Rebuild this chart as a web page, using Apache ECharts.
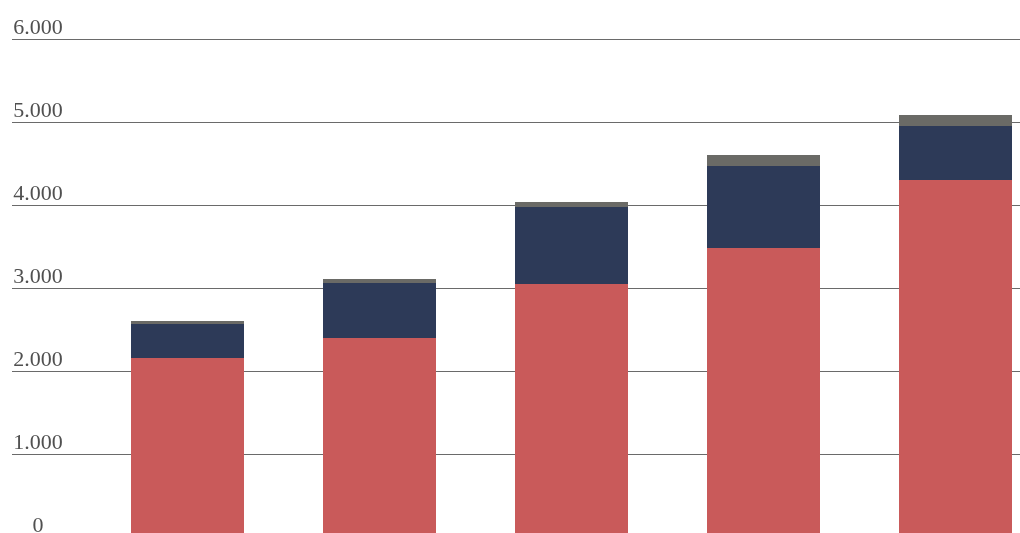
<!DOCTYPE html>
<html>
<head>
<meta charset="utf-8">
<script src="https://cdn.jsdelivr.net/npm/echarts@6/dist/echarts.min.js"></script>
<style>
html,body{margin:0;padding:0;background:#fff;}
#chart{width:1020px;height:533px;}
</style>
</head>
<body>
<div id="chart"></div>
<script>
const categories = ['1', '2', '3', '4', '5'];
const seriesRed = [2157, 2398, 3048, 3482, 4301];
const seriesNavy = [409, 662, 928, 988, 651];
const seriesGray = [36, 48, 60, 132, 132];
const yTicks = [0, 1000, 2000, 3000, 4000, 5000, 6000];

function fmt(v) {
  return String(v).replace(/\B(?=(\d{3})+(?!\d))/g, '.');
}

const chart = echarts.init(document.getElementById('chart'), null, {renderer: 'canvas'});
chart.setOption({
  animation: false,
  backgroundColor: '#ffffff',
  grid: [
    {left: 12, right: 0, top: 39, bottom: -4, outerBoundsMode: 'none'},
    {left: 91.5, width: 960, top: 39, bottom: -4, outerBoundsMode: 'none'}
  ],
  xAxis: [
    {gridIndex: 0, type: 'value', min: 0, max: 1, show: false},
    {gridIndex: 1, type: 'category', data: categories, show: false, boundaryGap: true}
  ],
  yAxis: [
    {
      gridIndex: 0, type: 'value', min: yTicks[0], max: yTicks[yTicks.length - 1], interval: 1000,
      axisLine: {show: false}, axisTick: {show: false},
      splitLine: {show: true, lineStyle: {color: '#6a6a6a', width: 1}},
      axisLabel: {
        inside: true, margin: 26, align: 'center', verticalAlign: 'bottom',
        padding: [0, 0, 0, 0],
        fontFamily: 'Liberation Serif', fontSize: 22, color: '#505050',
        formatter: fmt
      }
    },
    {gridIndex: 1, type: 'value', min: yTicks[0], max: yTicks[yTicks.length - 1], show: false, splitLine: {show: false}}
  ],
  series: [
    {type: 'bar', name: 'red', stack: 's', xAxisIndex: 1, yAxisIndex: 1, data: seriesRed, barWidth: 113, itemStyle: {color: '#c95a5a'}},
    {type: 'bar', name: 'navy', stack: 's', xAxisIndex: 1, yAxisIndex: 1, data: seriesNavy, barWidth: 113, itemStyle: {color: '#2d3a58'}},
    {type: 'bar', name: 'gray', stack: 's', xAxisIndex: 1, yAxisIndex: 1, data: seriesGray, barWidth: 113, itemStyle: {color: '#6a6a66'}}
  ]
});
</script>
</body>
</html>
